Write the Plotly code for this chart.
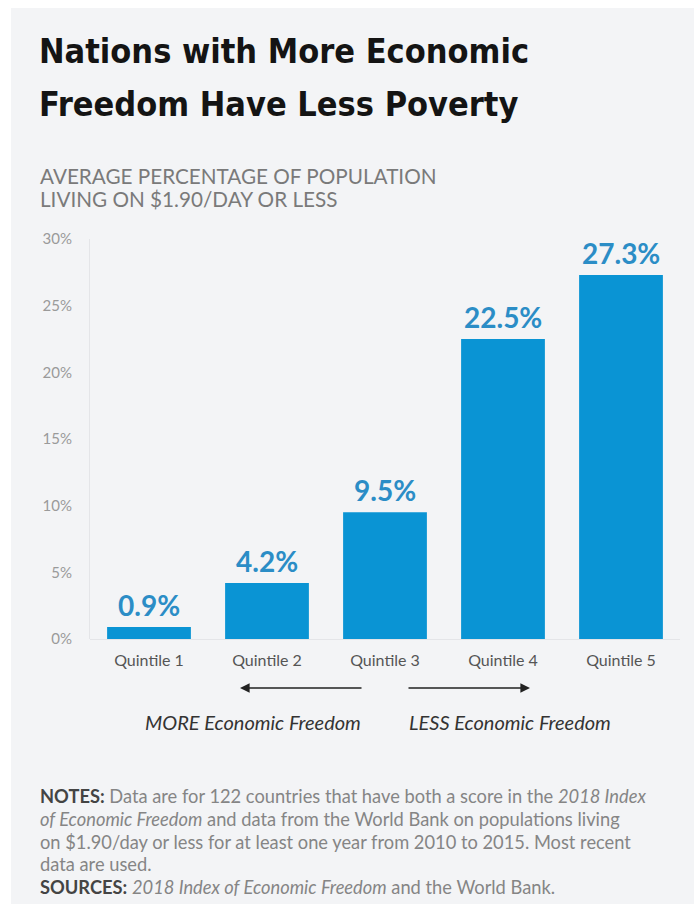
import plotly.graph_objects as go

categories = ["Quintile 1", "Quintile 2", "Quintile 3", "Quintile 4", "Quintile 5"]
values = [0.9, 4.2, 9.5, 22.5, 27.3]
value_labels = ["0.9%", "4.2%", "9.5%", "22.5%", "27.3%"]
y_ticks = [0, 5, 10, 15, 20, 25, 30]
y_tick_labels = ["0%", "5%", "10%", "15%", "20%", "25%", "30%"]

W, H = 697, 904
L, R, T, B = 90, 17, 239, 265
PW, PH = W - L - R, H - T - B

def px(x):
    return (x - L) / PW

def py(y):
    return (H - B - y) / PH

BODY = "Lato, 'Noto Sans', sans-serif"
TITLE = "'DejaVu Sans Condensed', 'Liberation Sans Narrow', sans-serif"

fig = go.Figure()
fig.add_trace(go.Bar(
    x=categories, y=values,
    marker=dict(color="#0a94d4", line=dict(width=0)),
    hoverinfo="skip",
))

ann = []
for c, v, t in zip(categories, values, value_labels):
    ann.append(dict(x=c, y=v, xref="x", yref="y", text=t, showarrow=False,
                    yanchor="middle", yshift=22,
                    font=dict(family=BODY, size=28, color="#2b8dc6", weight="bold")))

# title
ann.append(dict(x=px(37), y=py(51), xref="paper", yref="paper", xanchor="left", yanchor="middle",
                text="Nations with More Economic", showarrow=False,
                font=dict(family=TITLE, size=34, color="#141414", weight="bold")))
ann.append(dict(x=px(37), y=py(104), xref="paper", yref="paper", xanchor="left", yanchor="middle",
                text="Freedom Have Less Poverty", showarrow=False,
                font=dict(family=TITLE, size=34, color="#141414", weight="bold")))
# subtitle
for yy, t in [(176, "AVERAGE PERCENTAGE OF POPULATION"), (199, "LIVING ON $1.90/DAY OR LESS")]:
    ann.append(dict(x=px(38), y=py(yy), xref="paper", yref="paper", xanchor="left", yanchor="middle",
                    text=t, showarrow=False,
                    font=dict(family=BODY, size=20.7, color="#7a7a7a")))

# arrows
ann.append(dict(x=px(240), y=py(688), xref="paper", yref="paper", ax=123, ay=0, axref="pixel", ayref="pixel",
                text="", showarrow=True, arrowhead=2, arrowsize=1.2, arrowwidth=1.6, arrowcolor="#222222"))
ann.append(dict(x=px(530), y=py(688), xref="paper", yref="paper", ax=-123, ay=0, axref="pixel", ayref="pixel",
                text="", showarrow=True, arrowhead=2, arrowsize=1.2, arrowwidth=1.6, arrowcolor="#222222"))
ann.append(dict(x=px(253), y=py(722), xref="paper", yref="paper", xanchor="center", yanchor="middle",
                text="<i>MORE Economic Freedom</i>", showarrow=False,
                font=dict(family=BODY, size=20, color="#333333")))
ann.append(dict(x=px(510), y=py(722), xref="paper", yref="paper", xanchor="center", yanchor="middle",
                text="<i>LESS Economic Freedom</i>", showarrow=False,
                font=dict(family=BODY, size=20, color="#333333")))

# notes
notes = [
    "<b><span style='color:#444444'>NOTES:</span></b> Data are for 122 countries that have both a score in the <i>2018 Index</i>",
    "<i>of Economic Freedom</i> and data from the World Bank on populations living",
    "on $1.90/day or less for at least one year from 2010 to 2015. Most recent",
    "data are used.",
    "<b><span style='color:#444444'>SOURCES:</span></b> <i>2018 Index of Economic Freedom</i> and the World Bank.",
]
for i, t in enumerate(notes):
    ann.append(dict(x=px(38), y=py(796 + i * 22.8), xref="paper", yref="paper", xanchor="left", yanchor="middle",
                    text=t, showarrow=False,
                    font=dict(family=BODY, size=18.3, color="#858585")))

shapes = [
    dict(type="rect", xref="paper", yref="paper", x0=px(11), x1=px(694), y0=py(904), y1=py(8),
         fillcolor="#f3f4f6", line=dict(width=0), layer="below"),
]

fig.update_layout(
    width=W, height=H,
    margin=dict(l=L, r=R, t=T, b=B, pad=0),
    paper_bgcolor="#ffffff",
    plot_bgcolor="rgba(0,0,0,0)",
    showlegend=False,
    bargap=0.29,
    annotations=ann,
    shapes=shapes,
    xaxis=dict(showgrid=False, zeroline=False, showline=False, ticks="",
               tickfont=dict(family=BODY, size=16, color="#555555"), ticklabelstandoff=10),
    yaxis=dict(range=[0, 30], tickvals=y_ticks, ticktext=y_tick_labels, showgrid=False,
               zeroline=True, zerolinecolor="#e4e5e8", zerolinewidth=1,
               showline=True, linecolor="#e4e5e8", linewidth=1, ticks="",
               tickfont=dict(family=BODY, size=15, color="#9a9a9a"), ticklabelstandoff=14),
)

fig.write_html("out.html", config={"displayModeBar": False},
               post_script="document.body.style.margin='0';")
